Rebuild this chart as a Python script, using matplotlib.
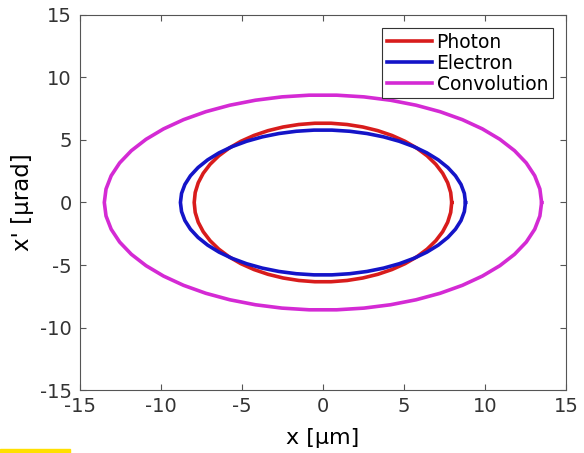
import numpy as np
import matplotlib
matplotlib.use("Agg")
import matplotlib.pyplot as plt
from matplotlib.patches import Rectangle

# semi-axes: (x half-width [um], x' half-height [urad])
names = ["Photon", "Electron", "Convolution"]
x_half = [7.95, 8.8, 13.5]
xp_half = [6.35, 5.8, 8.6]
colors = ["#d81c1c", "#1414c8", "#d42ad4"]

ticks = [-15, -10, -5, 0, 5, 10, 15]

plt.rcParams['font.family'] = 'DejaVu Sans'
plt.rcParams['font.size'] = 14
plt.rcParams['axes.unicode_minus'] = False

fig = plt.figure(figsize=(5.84, 4.53), dpi=100)
ax = fig.add_axes([0.137, 0.139, 0.832, 0.828])

t = np.linspace(0, 2 * np.pi, 51)
for n, a, b, c in zip(names, x_half, xp_half, colors):
    ax.plot(a * np.cos(t), b * np.sin(t), color=c, lw=2.6, label=n)

ax.set_xlim(-15, 15)
ax.set_ylim(-15, 15)
ax.set_xticks(ticks)
ax.set_yticks(ticks)
ax.set_xlabel("x [µm]", fontsize=16, labelpad=9)
ax.set_ylabel("x' [µrad]", fontsize=16.5, labelpad=4)
ax.tick_params(direction="in", top=True, right=True, length=4, color="#555555",
               labelcolor="#333333", labelsize=14)
ax.tick_params(axis="y", pad=6)
ax.tick_params(axis="x", pad=5)
for s in ax.spines.values():
    s.set_color("#555555")
    s.set_linewidth(0.8)

leg = ax.legend(loc="upper right", fancybox=False, edgecolor="#333333", framealpha=1,
                handlelength=2.4, handletextpad=0.25, borderpad=0.25, labelspacing=0.1,
                borderaxespad=0.7, fontsize=13.5)
leg.get_frame().set_linewidth(0.8)

# small yellow mark at the bottom left corner of the image
fig.patches.append(Rectangle((0.0, 0.0), 0.12, 0.009, transform=fig.transFigure,
                             color="#ffe000", zorder=10))

fig.savefig("out.png", dpi=100)
